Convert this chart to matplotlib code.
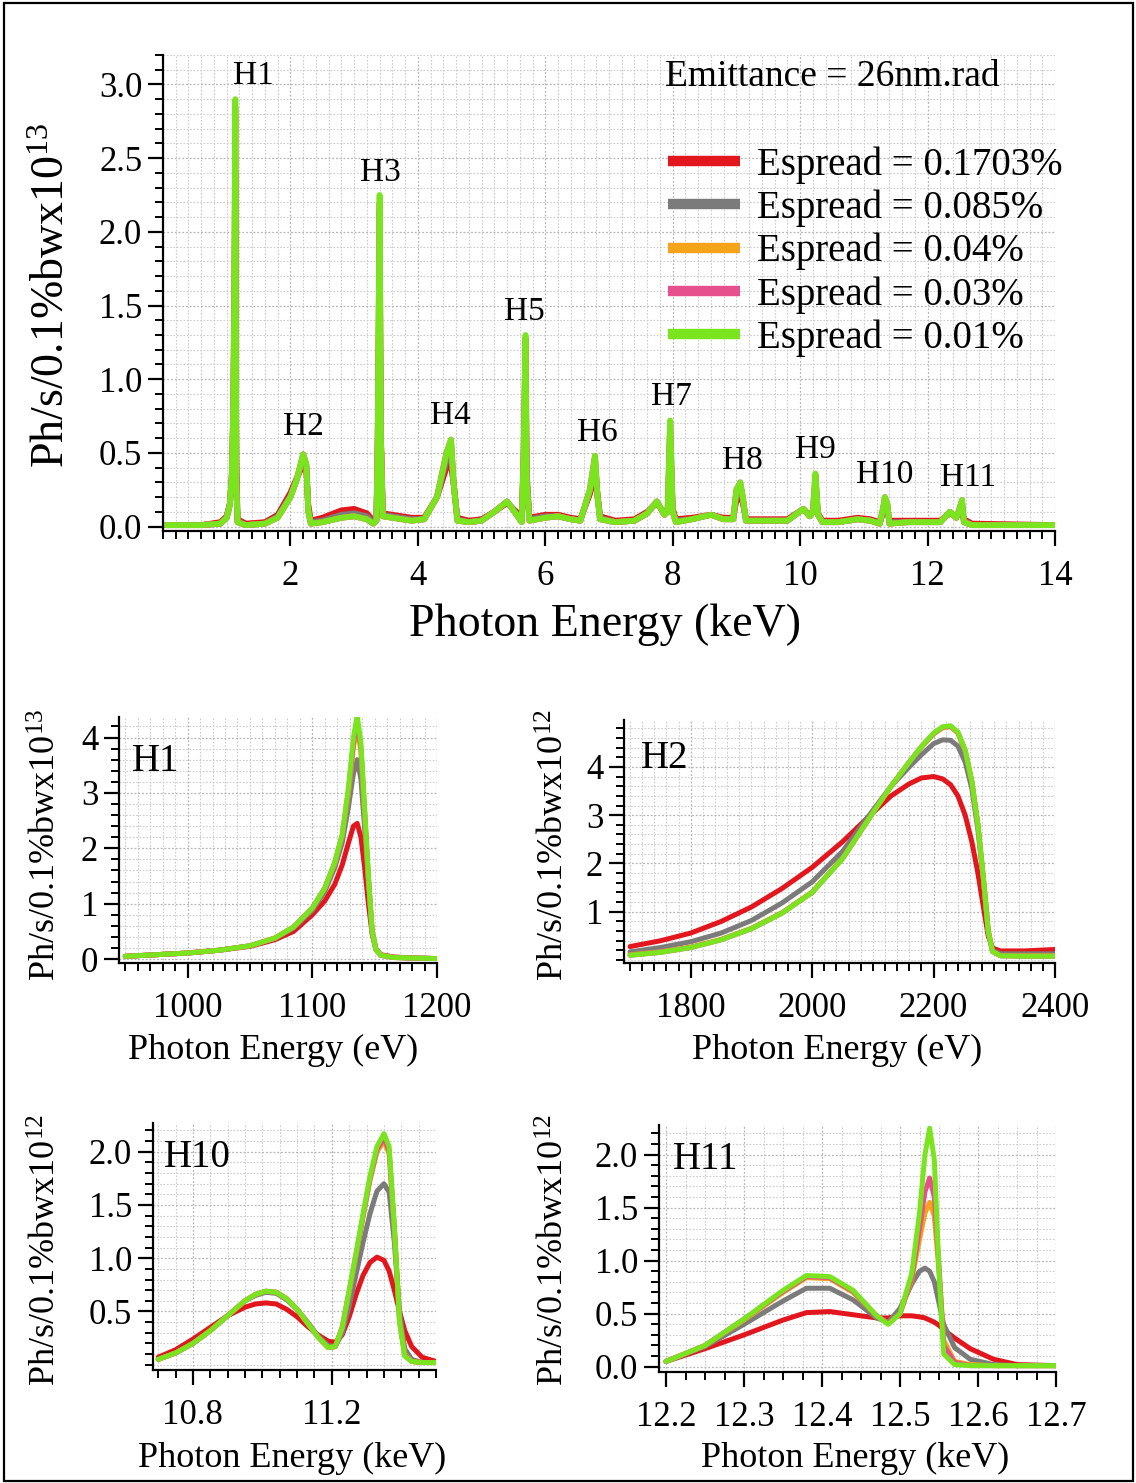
import matplotlib
matplotlib.use('Agg')
import matplotlib.pyplot as plt
from matplotlib.ticker import MultipleLocator, FixedLocator
from matplotlib.patches import Rectangle

plt.rcParams['font.family'] = ['Liberation Serif', 'DejaVu Serif']
plt.rcParams['mathtext.fontset'] = 'custom'
plt.rcParams['mathtext.rm'] = 'Liberation Serif'
plt.rcParams['mathtext.it'] = 'Liberation Serif:italic'

# ---------------- data ----------------
series_labels = ['Espread = 0.1703%', 'Espread = 0.085%', 'Espread = 0.04%',
                 'Espread = 0.03%', 'Espread = 0.01%']
series_colors = ['#e3161d', '#7b7b7b', '#f4a31a', '#e6508d', '#7ae51f']

# Overview spectrum (keV, x1e13)
E_top = [0.05, 0.60, 0.90, 1.00, 1.05, 1.08, 1.10, 1.12, 1.135, 1.15,
         1.17, 1.30, 1.60, 1.80, 2.00, 2.10, 2.20, 2.25, 2.28, 2.32,
         2.50, 2.80, 3.00, 3.20, 3.30, 3.35, 3.37, 3.40, 3.42, 3.45,
         3.60, 3.90, 4.10, 4.30, 4.45, 4.52, 4.56, 4.62, 4.80, 5.00,
         5.20, 5.40, 5.55, 5.63, 5.66, 5.69, 5.71, 5.75, 6.00, 6.20,
         6.40, 6.55, 6.70, 6.78, 6.82, 6.86, 7.10, 7.40, 7.60, 7.75,
         7.87, 7.92, 7.96, 8.00, 8.05, 8.30, 8.60, 8.80, 8.95, 9.00,
         9.06, 9.10, 9.15, 9.50, 9.80, 10.05, 10.15, 10.20, 10.24, 10.28,
         10.35, 10.60, 10.90, 11.10, 11.25, 11.30, 11.33, 11.37, 11.40, 11.70,
         12.00, 12.20, 12.35, 12.45, 12.50, 12.54, 12.57, 12.70, 14.00]
top_red = [0.01, 0.01, 0.03, 0.07, 0.16, 0.33, 0.60, 1.10, 1.80, 0.45,
           0.05, 0.02, 0.03, 0.08, 0.23, 0.33, 0.42, 0.38, 0.15, 0.04,
           0.06, 0.11, 0.12, 0.09, 0.04, 0.06, 0.50, 1.50, 0.60, 0.09,
           0.08, 0.06, 0.06, 0.20, 0.40, 0.42, 0.30, 0.06, 0.04, 0.05,
           0.10, 0.16, 0.10, 0.05, 0.40, 0.80, 0.35, 0.06, 0.08, 0.08,
           0.06, 0.05, 0.22, 0.35, 0.22, 0.07, 0.04, 0.05, 0.10, 0.16,
           0.09, 0.10, 0.45, 0.12, 0.05, 0.06, 0.08, 0.06, 0.06, 0.18,
           0.20, 0.16, 0.05, 0.05, 0.05, 0.12, 0.08, 0.10, 0.22, 0.09,
           0.04, 0.04, 0.06, 0.05, 0.03, 0.09, 0.12, 0.10, 0.04, 0.04,
           0.04, 0.04, 0.09, 0.07, 0.09, 0.10, 0.05, 0.02, 0.01]
top_gray = [0.01, 0.01, 0.02, 0.06, 0.15, 0.34, 0.70, 1.40, 2.40, 0.38,
            0.04, 0.01, 0.02, 0.07, 0.21, 0.32, 0.46, 0.40, 0.12, 0.03,
            0.04, 0.08, 0.09, 0.07, 0.03, 0.05, 0.55, 1.90, 0.60, 0.08,
            0.07, 0.05, 0.05, 0.20, 0.45, 0.50, 0.30, 0.05, 0.03, 0.04,
            0.10, 0.17, 0.09, 0.04, 0.45, 1.05, 0.32, 0.05, 0.07, 0.07,
            0.05, 0.04, 0.24, 0.42, 0.21, 0.06, 0.03, 0.04, 0.09, 0.17,
            0.08, 0.10, 0.60, 0.11, 0.04, 0.05, 0.08, 0.05, 0.05, 0.22,
            0.26, 0.18, 0.04, 0.04, 0.04, 0.12, 0.07, 0.10, 0.30, 0.08,
            0.03, 0.03, 0.05, 0.04, 0.02, 0.10, 0.17, 0.13, 0.03, 0.03,
            0.03, 0.03, 0.10, 0.06, 0.11, 0.15, 0.04, 0.01, 0.01]
top_orange = [0.01, 0.01, 0.02, 0.06, 0.15, 0.35, 0.74, 1.55, 2.80, 0.32,
              0.03, 0.01, 0.02, 0.06, 0.20, 0.32, 0.49, 0.42, 0.11, 0.02,
              0.03, 0.06, 0.07, 0.05, 0.02, 0.04, 0.60, 2.15, 0.60, 0.07,
              0.06, 0.04, 0.05, 0.20, 0.50, 0.58, 0.30, 0.04, 0.03, 0.04,
              0.10, 0.17, 0.08, 0.03, 0.50, 1.25, 0.30, 0.04, 0.06, 0.07,
              0.05, 0.04, 0.25, 0.47, 0.20, 0.05, 0.03, 0.04, 0.09, 0.17,
              0.08, 0.10, 0.70, 0.10, 0.03, 0.05, 0.08, 0.05, 0.05, 0.25,
              0.29, 0.20, 0.04, 0.04, 0.04, 0.12, 0.07, 0.10, 0.35, 0.08,
              0.03, 0.03, 0.05, 0.04, 0.02, 0.12, 0.19, 0.15, 0.02, 0.03,
              0.03, 0.03, 0.10, 0.06, 0.12, 0.17, 0.03, 0.01, 0.01]
top_pink = [0.01, 0.01, 0.02, 0.06, 0.15, 0.35, 0.75, 1.58, 2.85, 0.31,
            0.03, 0.01, 0.02, 0.06, 0.20, 0.32, 0.49, 0.42, 0.10, 0.02,
            0.03, 0.06, 0.07, 0.05, 0.02, 0.04, 0.60, 2.20, 0.60, 0.07,
            0.06, 0.04, 0.05, 0.20, 0.50, 0.59, 0.30, 0.04, 0.03, 0.04,
            0.10, 0.17, 0.08, 0.03, 0.50, 1.28, 0.30, 0.04, 0.06, 0.07,
            0.05, 0.04, 0.25, 0.48, 0.20, 0.05, 0.03, 0.04, 0.09, 0.17,
            0.08, 0.10, 0.71, 0.10, 0.03, 0.05, 0.08, 0.05, 0.05, 0.25,
            0.30, 0.20, 0.04, 0.04, 0.04, 0.12, 0.07, 0.10, 0.35, 0.08,
            0.03, 0.03, 0.05, 0.04, 0.02, 0.12, 0.20, 0.15, 0.02, 0.03,
            0.03, 0.03, 0.10, 0.06, 0.12, 0.18, 0.03, 0.01, 0.01]
top_green = [0.01, 0.01, 0.02, 0.06, 0.15, 0.35, 0.75, 1.60, 2.90, 0.30,
             0.03, 0.01, 0.02, 0.06, 0.20, 0.32, 0.49, 0.42, 0.10, 0.02,
             0.03, 0.06, 0.07, 0.05, 0.02, 0.04, 0.60, 2.25, 0.60, 0.07,
             0.06, 0.04, 0.05, 0.20, 0.50, 0.59, 0.30, 0.04, 0.03, 0.04,
             0.10, 0.17, 0.08, 0.03, 0.50, 1.30, 0.30, 0.04, 0.06, 0.07,
             0.05, 0.04, 0.25, 0.48, 0.20, 0.05, 0.03, 0.04, 0.09, 0.17,
             0.08, 0.10, 0.72, 0.10, 0.03, 0.05, 0.08, 0.05, 0.05, 0.25,
             0.30, 0.20, 0.04, 0.04, 0.04, 0.12, 0.07, 0.10, 0.36, 0.08,
             0.03, 0.03, 0.05, 0.04, 0.02, 0.12, 0.20, 0.15, 0.02, 0.03,
             0.03, 0.03, 0.10, 0.06, 0.12, 0.18, 0.03, 0.01, 0.01]

harm_labels = ['H1', 'H2', 'H3', 'H4', 'H5', 'H6', 'H7', 'H8', 'H9', 'H10', 'H11']
harm_x = [1.42, 2.20, 3.41, 4.51, 5.67, 6.81, 7.98, 9.09, 10.24, 11.33, 12.64]
harm_y = [3.06, 0.68, 2.40, 0.75, 1.455, 0.64, 0.88, 0.45, 0.52, 0.35, 0.33]

# H1 zoom (eV, x1e13)
E_h1 = [950, 975, 1000, 1025, 1050, 1070, 1085, 1100, 1110, 1118, 1124, 1129,
        1133, 1136, 1139, 1142, 1145, 1148, 1151, 1155, 1165, 1180, 1200]
h1_red = [0.05, 0.08, 0.11, 0.16, 0.23, 0.35, 0.50, 0.80, 1.05, 1.35, 1.70, 2.10,
          2.40, 2.45, 2.20, 1.65, 1.00, 0.45, 0.18, 0.08, 0.04, 0.02, 0.01]
h1_gray = [0.05, 0.08, 0.11, 0.16, 0.24, 0.37, 0.56, 0.88, 1.22, 1.65, 2.10, 2.75,
           3.35, 3.60, 3.25, 2.35, 1.35, 0.50, 0.18, 0.07, 0.03, 0.02, 0.01]
h1_orange = [0.05, 0.08, 0.11, 0.16, 0.24, 0.38, 0.58, 0.92, 1.28, 1.72, 2.22, 3.00,
             3.82, 4.20, 3.75, 2.60, 1.45, 0.50, 0.17, 0.07, 0.03, 0.02, 0.01]
h1_pink = [0.05, 0.08, 0.11, 0.16, 0.24, 0.38, 0.58, 0.92, 1.28, 1.74, 2.24, 3.05,
           3.90, 4.30, 3.82, 2.65, 1.48, 0.50, 0.17, 0.07, 0.03, 0.02, 0.01]
h1_green = [0.05, 0.08, 0.11, 0.16, 0.24, 0.38, 0.58, 0.92, 1.28, 1.75, 2.25, 3.10,
            4.00, 4.40, 3.90, 2.70, 1.50, 0.50, 0.17, 0.07, 0.03, 0.02, 0.01]

# H2 zoom (eV, x1e12)
E_h2 = [1700, 1750, 1800, 1850, 1900, 1950, 2000, 2050, 2100, 2130, 2160, 2180, 2200,
        2215, 2228, 2240, 2252, 2263, 2273, 2282, 2290, 2297, 2310, 2350, 2400]
h2_red = [0.28, 0.40, 0.56, 0.80, 1.10, 1.48, 1.92, 2.45, 3.05, 3.40, 3.65, 3.77, 3.80,
          3.75, 3.63, 3.40, 3.00, 2.45, 1.80, 1.10, 0.50, 0.25, 0.19, 0.19, 0.22]
h2_gray = [0.17, 0.26, 0.38, 0.56, 0.82, 1.18, 1.62, 2.25, 3.10, 3.60, 4.00, 4.25, 4.48,
           4.56, 4.55, 4.43, 4.10, 3.55, 2.70, 1.65, 0.60, 0.20, 0.13, 0.13, 0.13]
h2_orange = [0.11, 0.17, 0.27, 0.43, 0.66, 0.98, 1.41, 2.11, 3.05, 3.60, 4.10, 4.41, 4.68,
             4.81, 4.83, 4.70, 4.33, 3.69, 2.80, 1.70, 0.60, 0.18, 0.09, 0.09, 0.09]
h2_pink = [0.10, 0.16, 0.26, 0.42, 0.65, 0.97, 1.40, 2.10, 3.05, 3.60, 4.10, 4.42, 4.69,
           4.82, 4.84, 4.71, 4.34, 3.70, 2.80, 1.70, 0.60, 0.18, 0.09, 0.08, 0.08]
h2_green = [0.10, 0.16, 0.26, 0.42, 0.65, 0.97, 1.40, 2.10, 3.05, 3.60, 4.10, 4.42, 4.70,
            4.83, 4.85, 4.72, 4.35, 3.70, 2.80, 1.70, 0.60, 0.18, 0.09, 0.08, 0.08]

# H10 zoom (keV, x1e12)
E_h10 = [10.70, 10.75, 10.80, 10.85, 10.90, 10.95, 10.98, 11.01, 11.04, 11.07,
         11.10, 11.13, 11.16, 11.19, 11.21, 11.23, 11.25, 11.27, 11.29, 11.31,
         11.33, 11.35, 11.365, 11.38, 11.395, 11.41, 11.43, 11.46, 11.50]
h10_red = [0.07, 0.14, 0.24, 0.35, 0.46, 0.54, 0.57, 0.58, 0.57, 0.52,
           0.45, 0.36, 0.28, 0.22, 0.21, 0.28, 0.45, 0.66, 0.84, 0.96,
           1.01, 0.98, 0.88, 0.70, 0.50, 0.32, 0.17, 0.07, 0.03]
h10_gray = [0.05, 0.11, 0.20, 0.32, 0.46, 0.60, 0.65, 0.68, 0.67, 0.61,
            0.52, 0.40, 0.27, 0.18, 0.17, 0.30, 0.55, 0.85, 1.15, 1.42,
            1.63, 1.70, 1.62, 1.15, 0.50, 0.15, 0.05, 0.02, 0.02]
h10_orange = [0.05, 0.11, 0.20, 0.32, 0.46, 0.60, 0.66, 0.69, 0.68, 0.62,
              0.52, 0.39, 0.26, 0.16, 0.17, 0.35, 0.68, 1.03, 1.39, 1.73,
              2.00, 2.10, 1.98, 1.28, 0.42, 0.10, 0.03, 0.02, 0.02]
h10_pink = [0.05, 0.11, 0.20, 0.32, 0.46, 0.60, 0.66, 0.69, 0.68, 0.62,
            0.52, 0.39, 0.26, 0.16, 0.17, 0.35, 0.69, 1.04, 1.40, 1.75,
            2.02, 2.13, 2.01, 1.29, 0.41, 0.09, 0.03, 0.02, 0.02]
h10_green = [0.05, 0.11, 0.20, 0.32, 0.46, 0.60, 0.66, 0.69, 0.68, 0.62,
             0.52, 0.39, 0.26, 0.16, 0.17, 0.35, 0.70, 1.05, 1.42, 1.77,
             2.05, 2.17, 2.05, 1.30, 0.40, 0.08, 0.03, 0.02, 0.02]

# H11 zoom (keV, x1e12)
E_h11 = [12.20, 12.25, 12.30, 12.35, 12.38, 12.41, 12.44, 12.47, 12.485, 12.50, 12.515,
         12.525, 12.532, 12.538, 12.544, 12.55, 12.556, 12.57, 12.59, 12.62, 12.65, 12.70]
h11_red = [0.05, 0.17, 0.30, 0.44, 0.51, 0.52, 0.49, 0.46, 0.46, 0.48, 0.48,
           0.47, 0.46, 0.44, 0.42, 0.39, 0.35, 0.27, 0.17, 0.07, 0.02, 0.01]
h11_gray = [0.05, 0.19, 0.40, 0.62, 0.74, 0.74, 0.63, 0.46, 0.42, 0.55, 0.78,
            0.90, 0.93, 0.90, 0.80, 0.60, 0.40, 0.18, 0.07, 0.02, 0.01, 0.01]
h11_orange = [0.05, 0.20, 0.44, 0.70, 0.84, 0.83, 0.70, 0.48, 0.41, 0.50, 0.82,
              1.20, 1.45, 1.55, 1.42, 0.90, 0.25, 0.05, 0.02, 0.01, 0.01, 0.01]
h11_pink = [0.05, 0.20, 0.45, 0.71, 0.85, 0.84, 0.71, 0.48, 0.41, 0.50, 0.84,
            1.30, 1.65, 1.78, 1.60, 0.95, 0.20, 0.04, 0.01, 0.01, 0.01, 0.01]
h11_green = [0.05, 0.20, 0.45, 0.72, 0.86, 0.85, 0.72, 0.48, 0.40, 0.50, 0.88,
             1.45, 2.00, 2.25, 1.95, 0.90, 0.12, 0.02, 0.01, 0.01, 0.01, 0.01]

# ---------------- figure ----------------
W, H = 1136, 1483
fig = plt.figure(figsize=(W / 100, H / 100), dpi=100)


def box(l, t, r, b):
    return [l / W, 1 - b / H, (r - l) / W, (b - t) / H]


def fx(x):
    return x / W


def fy(y):
    return 1 - y / H


def style(ax, xmaj, xmin, ymaj, ymin, xlim, ylim, fs=25):
    for s in ['top', 'right']:
        ax.spines[s].set_visible(False)
    for s in ['left', 'bottom']:
        ax.spines[s].set_linewidth(1.6)
    ax.set_xlim(*xlim)
    ax.set_ylim(*ylim)
    ax.xaxis.set_major_locator(FixedLocator(xmaj))
    ax.xaxis.set_minor_locator(MultipleLocator(xmin))
    ax.yaxis.set_major_locator(FixedLocator(ymaj))
    ax.yaxis.set_minor_locator(MultipleLocator(ymin))
    ax.tick_params(which='major', direction='out', length=11, width=1.6,
                   labelsize=fs, colors='black')
    ax.tick_params(which='minor', direction='out', length=5.5, width=1.4)
    ax.tick_params(axis='x', which='major', pad=10)
    ax.tick_params(axis='y', which='major', pad=4)
    ax.grid(which='minor', color='#cdcdcd', linestyle=(0, (1.5, 1.5)), linewidth=0.8)
    ax.grid(which='major', color='#b5b5b5', linestyle=(0, (1.5, 1.5)), linewidth=0.9)
    ax.set_axisbelow(True)


def draw(ax, x, ys, lw):
    for y, c, lab in zip(ys, series_colors, series_labels):
        ax.plot(x, y, color=c, lw=lw, label=lab, solid_capstyle='round',
                solid_joinstyle='round')


# ---- top overview ----
ax0 = fig.add_axes(box(163, 55, 1055, 531))
draw(ax0, E_top, [top_red, top_gray, top_orange, top_pink, top_green], 4.2)
style(ax0, [2, 4, 6, 8, 10, 12, 14], 0.2, [0.0, 0.5, 1.0, 1.5, 2.0, 2.5, 3.0], 0.1,
      (0, 14), (-0.03, 3.2))
ax0.set_yticklabels(['0.0', '0.5', '1.0', '1.5', '2.0', '2.5', '3.0'])
for lab, hx, hy in zip(harm_labels, harm_x, harm_y):
    ax0.text(hx, hy, lab, fontsize=24, ha='center', va='center')
fig.text(fx(665), fy(77), 'Emittance = 26nm.rad', fontsize=27, ha='left', va='center')
leg = ax0.legend(loc='upper left', bbox_to_anchor=(fx(668), fy(146)),
                 bbox_transform=fig.transFigure, frameon=False, fontsize=28,
                 handlelength=1.85, handletextpad=0.45, labelspacing=0.15,
                 borderpad=0, borderaxespad=0)
for h in leg.get_lines():
    h.set_linewidth(7.5)
    h.set_solid_capstyle('butt')
fig.text(fx(53), fy(295), r'Ph/s/0.1%bwx10$^{13}$', fontsize=33, rotation=90,
         ha='center', va='center')
fig.text(fx(605), fy(625), 'Photon Energy (keV)', fontsize=33, ha='center', va='center')

# ---- H1 ----
ax1 = fig.add_axes(box(119, 717, 437, 963))
draw(ax1, E_h1, [h1_red, h1_gray, h1_orange, h1_pink, h1_green], 3.6)
style(ax1, [1000, 1100, 1200], 10, [0, 1, 2, 3, 4], 0.2, (945, 1200), (-0.07, 4.37))
ax1.text(0.04, 0.82, 'H1', transform=ax1.transAxes, fontsize=28, ha='left', va='center')
fig.text(fx(47), fy(845), r'Ph/s/0.1%bwx10$^{13}$', fontsize=26, rotation=90,
         ha='center', va='center')
fig.text(fx(273), fy(1050), 'Photon Energy (eV)', fontsize=26, ha='center', va='center')

# ---- H2 ----
ax2 = fig.add_axes(box(624, 720, 1055, 963))
draw(ax2, E_h2, [h2_red, h2_gray, h2_orange, h2_pink, h2_green], 3.6)
style(ax2, [1800, 2000, 2200, 2400], 20, [1, 2, 3, 4], 0.2, (1690, 2400), (-0.06, 4.97))
ax2.text(0.04, 0.84, 'H2', transform=ax2.transAxes, fontsize=28, ha='left', va='center')
fig.text(fx(555), fy(845), r'Ph/s/0.1%bwx10$^{12}$', fontsize=26, rotation=90,
         ha='center', va='center')
fig.text(fx(837), fy(1050), 'Photon Energy (eV)', fontsize=26, ha='center', va='center')

# ---- H10 ----
ax3 = fig.add_axes(box(153, 1123, 436, 1370))
draw(ax3, E_h10, [h10_red, h10_gray, h10_orange, h10_pink, h10_green], 3.6)
style(ax3, [10.8, 11.2], 0.05, [0.5, 1.0, 1.5, 2.0], 0.1, (10.685, 11.5), (-0.05, 2.27))
ax3.set_yticklabels(['0.5', '1.0', '1.5', '2.0'])
ax3.set_xticklabels(['10.8', '11.2'])
ax3.text(0.04, 0.86, 'H10', transform=ax3.transAxes, fontsize=28, ha='left', va='center')
fig.text(fx(47), fy(1250), r'Ph/s/0.1%bwx10$^{12}$', fontsize=26, rotation=90,
         ha='center', va='center')
fig.text(fx(292), fy(1458), 'Photon Energy (keV)', fontsize=26, ha='center', va='center')

# ---- H11 ----
ax4 = fig.add_axes(box(659, 1125, 1056, 1372))
draw(ax4, E_h11, [h11_red, h11_gray, h11_orange, h11_pink, h11_green], 3.6)
style(ax4, [12.2, 12.3, 12.4, 12.5, 12.6, 12.7], 0.025, [0.0, 0.5, 1.0, 1.5, 2.0], 0.1,
      (12.191, 12.7), (-0.05, 2.28))
ax4.set_yticklabels(['0.0', '0.5', '1.0', '1.5', '2.0'])
ax4.set_xticklabels(['12.2', '12.3', '12.4', '12.5', '12.6', '12.7'])
ax4.text(0.035, 0.86, 'H11', transform=ax4.transAxes, fontsize=28, ha='left', va='center')
fig.text(fx(555), fy(1250), r'Ph/s/0.1%bwx10$^{12}$', fontsize=26, rotation=90,
         ha='center', va='center')
fig.text(fx(855), fy(1458), 'Photon Energy (keV)', fontsize=26, ha='center', va='center')

# outer frame
fig.patches.append(Rectangle((fx(4), fy(1481)), (1133 - 4) / W, (1481 - 3) / H,
                             transform=fig.transFigure, fill=False,
                             edgecolor='black', linewidth=1.6))

fig.savefig('out.png', dpi=100)
